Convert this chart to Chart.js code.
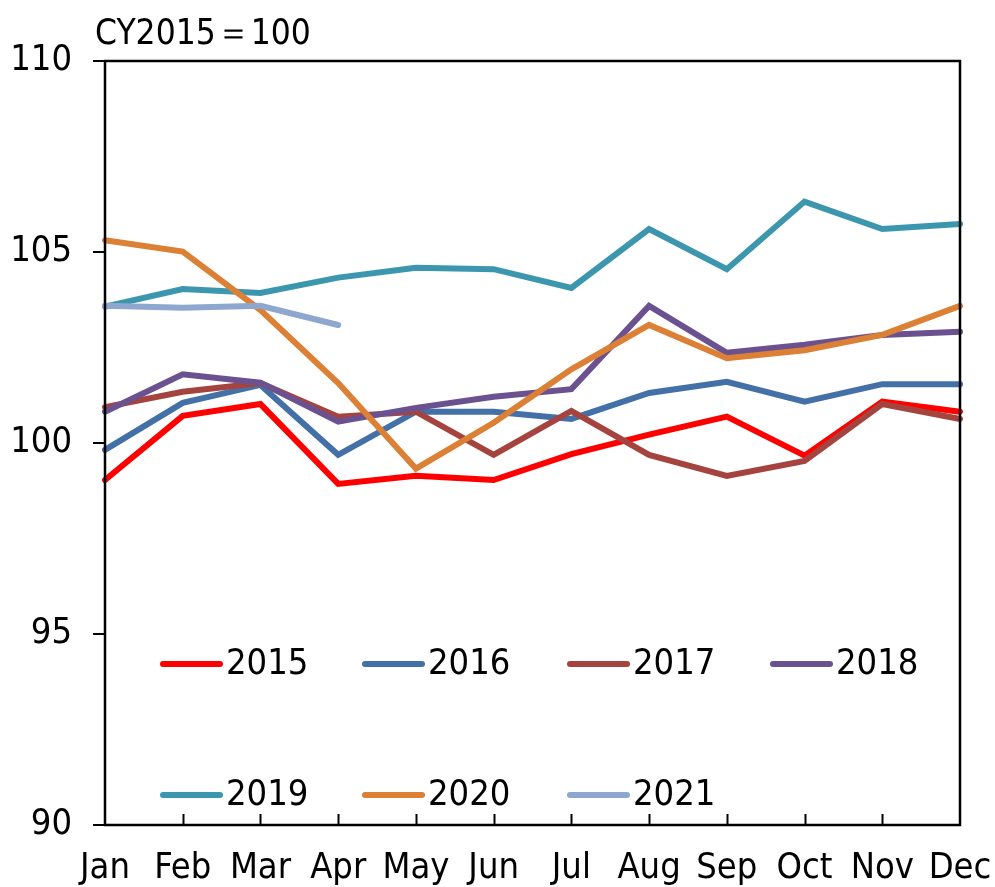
<!DOCTYPE html>
<html>
<head>
<meta charset="utf-8">
<script src="https://cdn.jsdelivr.net/npm/chart.js@4/dist/chart.umd.min.js"></script>
<style>
  html, body { margin: 0; padding: 0; background: #fff; }
  #wrap { width: 995px; height: 887px; position: relative; }
</style>
</head>
<body>
<div id="wrap"><canvas id="lineChart" width="995" height="887"></canvas></div>
<script>
// dữ liệu (CY2015 = 100)
const months = ["Jan", "Feb", "Mar", "Apr", "May", "Jun", "Jul", "Aug", "Sep", "Oct", "Nov", "Dec"];
const yearLabels = ["2015", "2016", "2017", "2018", "2019", "2020", "2021"];
const yTicks = [90, 95, 100, 105, 110];

const y2015 = [99.03, 100.71, 101.02, 98.93, 99.14, 99.03, 99.71, 100.22, 100.69, 99.67, 101.08, 100.82];
const y2016 = [99.82, 101.05, 101.52, 99.69, 100.82, 100.82, 100.63, 101.31, 101.6, 101.08, 101.54, 101.54];
const y2017 = [100.94, 101.34, 101.57, 100.69, 100.82, 99.69, 100.84, 99.69, 99.14, 99.53, 101.02, 100.63];
const y2018 = [100.82, 101.8, 101.58, 100.56, 100.92, 101.21, 101.41, 103.59, 102.36, 102.57, 102.83, 102.91];
const y2019 = [103.57, 104.03, 103.93, 104.33, 104.59, 104.55, 104.06, 105.6, 104.55, 106.32, 105.6, 105.73];
const y2020 = [105.31, 105.01, 103.48, 101.57, 99.33, 100.53, 101.93, 103.09, 102.22, 102.43, 102.83, 103.59];
const y2021 = [103.59, 103.54, 103.59, 103.09];

const seriesData = [y2015, y2016, y2017, y2018, y2019, y2020, y2021];
const seriesColors = ["#FF0000", "#4470A8", "#A5443F", "#6C5190", "#3C97AE", "#DB8035", "#8EA7CE"];

const FONT = "'Liberation Sans Narrow', 'DejaVu Sans Condensed', 'Liberation Sans', sans-serif";

// khung viền + vạch chia trục x hướng vào trong
const framePlugin = {
  id: "frame",
  afterDraw(chart) {
    const { ctx, chartArea } = chart;
    const xs = chart.scales.x;
    ctx.save();
    ctx.strokeStyle = "#000";
    ctx.lineWidth = 2.5;
    ctx.strokeRect(chartArea.left, chartArea.top, chartArea.right - chartArea.left, chartArea.bottom - chartArea.top);
    ctx.lineWidth = 2;
    for (let i = 1; i < months.length - 1; i++) {
      const x = Math.round(xs.getPixelForValue(i)) + 0.5;
      ctx.beginPath();
      ctx.moveTo(x, chartArea.bottom);
      ctx.lineTo(x, chartArea.bottom - 11);
      ctx.stroke();
    }
    ctx.restore();
  },
};

// chú thích vẽ trong vùng biểu đồ, 2 hàng
const legendPlugin = {
  id: "innerLegend",
  afterDraw(chart) {
    const { ctx } = chart;
    const colX = [160, 362, 567, 770];
    const rowY = [664, 795];
    ctx.save();
    ctx.font = "36px " + FONT;
    ctx.textBaseline = "middle";
    ctx.textAlign = "left";
    chart.data.datasets.forEach((ds, i) => {
      const x = colX[i % 4];
      const y = rowY[Math.floor(i / 4)];
      ctx.strokeStyle = ds.borderColor;
      ctx.lineWidth = 6;
      ctx.lineCap = "round";
      ctx.beginPath();
      ctx.moveTo(x + 3, y);
      ctx.lineTo(x + 60, y);
      ctx.stroke();
      ctx.fillStyle = "#000";
      ctx.fillText(ds.label, x + 66, y + 1);
    });
    // chú thích đơn vị
    ctx.font = "35px " + FONT;
    ctx.textBaseline = "alphabetic";
    ctx.fillText("CY2015＝100", 95, 44);
    ctx.restore();
  },
};

const ctx = document.getElementById("lineChart").getContext("2d");
new Chart(ctx, {
  type: "line",
  data: {
    labels: months,
    datasets: seriesData.map((vals, i) => ({
      label: yearLabels[i],
      data: vals,
      borderColor: seriesColors[i],
      backgroundColor: seriesColors[i],
      borderWidth: 6,
      borderCapStyle: "round",
      pointRadius: 0,
      tension: 0,
      fill: false,
      order: seriesData.length - i, // năm sau vẽ đè lên năm trước
    })),
  },
  options: {
    responsive: false,
    animation: false,
    layout: { padding: { top: 61, right: 35, left: 0, bottom: 0 } },
    plugins: {
      legend: { display: false },
      tooltip: { enabled: false },
    },
    scales: {
      x: {
        offset: false,
        grid: { display: false, drawTicks: false },
        border: { display: false },
        ticks: {
          color: "#000",
          font: { size: 36, family: FONT },
          padding: 22,
          maxRotation: 0,
          autoSkip: false,
        },
        afterFit(scale) {
          scale.height = 62;
          scale.paddingLeft = 0;
          scale.paddingRight = 0;
        },
      },
      y: {
        min: 90,
        max: 110,
        afterBuildTicks(scale) { scale.ticks = yTicks.map((v) => ({ value: v })); },
        grid: { drawOnChartArea: false, drawTicks: true, tickLength: 12, color: "#000", lineWidth: 2 },
        border: { display: false },
        ticks: {
          color: "#000",
          font: { size: 36, family: FONT },
          padding: 21,
        },
        afterFit(scale) {
          scale.width = 105;
          scale.paddingTop = 0;
          scale.paddingBottom = 0;
        },
      },
    },
  },
  plugins: [framePlugin, legendPlugin],
});
</script>
</body>
</html>
